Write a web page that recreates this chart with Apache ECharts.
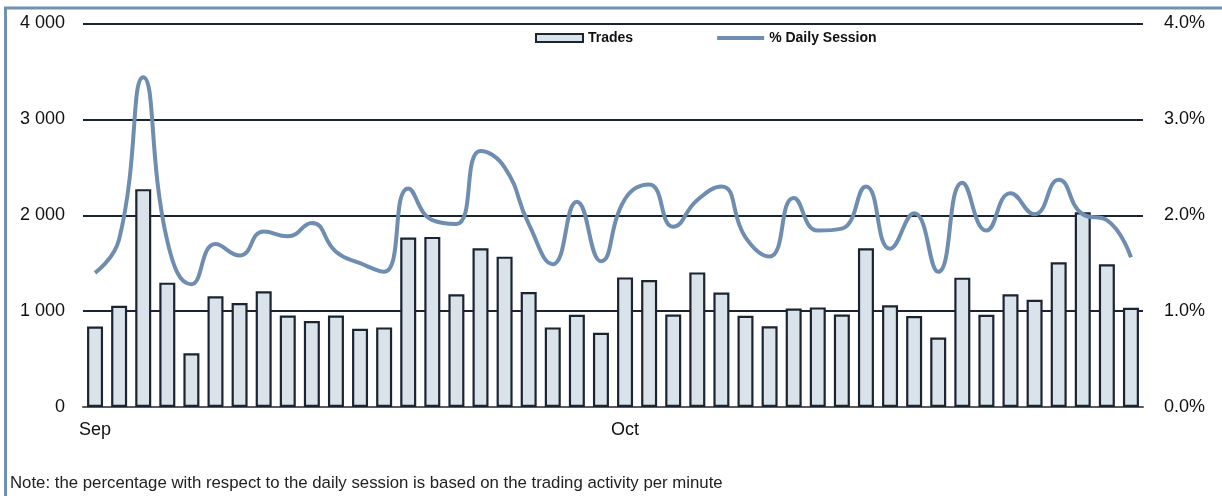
<!DOCTYPE html>
<html>
<head>
<meta charset="utf-8">
<script src="https://cdn.jsdelivr.net/npm/echarts@6/dist/echarts.min.js"></script>
<style>
  html, body { margin: 0; padding: 0; background: #fff; }
  #chart { width: 1222px; height: 496px; }
</style>
</head>
<body>
<div id="chart"></div>
<script>
// ---- data ----
const categories = Array.from({length: 44}, (_, i) => 'D' + (i + 1));
const monthTicks = { 0: 'Sep', 22: 'Oct' };
const trades = [840, 1056, 2272, 1297, 561, 1154, 1084, 1206, 955, 896, 955,
  816, 830, 1767, 1774, 1175, 1655, 1568, 1199, 830, 962, 774,
  1352, 1324, 965, 1404, 1195, 952, 843, 1028, 1039, 965, 1655,
  1060, 948, 725, 1349, 962, 1175, 1119, 1509, 2031, 1488, 1035];
const dailySession = [1.40, 1.75, 3.44, 1.73, 1.28, 1.70, 1.58, 1.83, 1.78, 1.92, 1.62,
  1.50, 1.41, 2.28, 1.95, 1.91, 2.67, 2.50, 1.91, 1.49, 2.14, 1.52,
  2.17, 2.32, 1.88, 2.16, 2.30, 1.77, 1.57, 2.18, 1.84, 1.86, 2.30,
  1.65, 2.02, 1.41, 2.34, 1.84, 2.23, 2.01, 2.37, 2.01, 1.95, 1.56];
const leftTicks = [0, 1000, 2000, 3000, 4000];
const noteText = 'Note: the percentage with respect to the daily session is based on the trading activity per minute';

const dark = '#1b2431';
const lineColor = '#6f8db0';
const font = '"Liberation Sans", Arial, sans-serif';

const chart = echarts.init(document.getElementById('chart'), null, { renderer: 'canvas' });
chart.setOption({
  animation: false,
  backgroundColor: '#fff',
  grid: { left: 83, right: 79, top: 23.5, bottom: 89, containLabel: false },
  legend: {
    left: 530, top: 26,
    itemWidth: 47, itemHeight: 8, itemGap: 82,
    textStyle: { fontFamily: font, fontSize: 14, fontWeight: 'bold', color: '#111' },
    data: [
      { name: 'Trades', icon: 'rect', itemStyle: { color: '#dae2ea', borderColor: dark, borderWidth: 2 } },
      { name: '% Daily Session', itemStyle: { opacity: 0 }, lineStyle: { color: lineColor, width: 4 } }
    ]
  },
  xAxis: {
    type: 'category',
    data: categories,
    boundaryGap: true,
    axisLine: { show: true, lineStyle: { color: '#555c66', width: 2 } },
    axisTick: { show: false },
    axisLabel: {
      interval: 0,
      margin: 14,
      fontFamily: font, fontSize: 18, color: '#111',
      formatter: (v, i) => monthTicks[i] || ''
    }
  },
  yAxis: [
    {
      type: 'value', min: 0, max: 4000, interval: 1000,
      axisLine: { show: false }, axisTick: { show: false },
      splitLine: { show: true, lineStyle: { color: dark, width: 2 } },
      axisLabel: {
        margin: 18, fontFamily: font, fontSize: 18, color: '#111',
        formatter: v => leftTicks.includes(v) ? String(v).replace(/\B(?=(\d{3})+(?!\d))/g, ' ') : ''
      }
    },
    {
      type: 'value', min: 0, max: 4, interval: 1,
      axisLine: { show: false }, axisTick: { show: false },
      splitLine: { show: false },
      axisLabel: {
        margin: 21, fontFamily: font, fontSize: 18, color: '#111',
        formatter: v => v.toFixed(1) + '%'
      }
    }
  ],
  series: [
    {
      name: 'Trades', type: 'bar', yAxisIndex: 0,
      data: trades, barWidth: 16,
      itemStyle: { color: '#dae2ea', borderColor: dark, borderWidth: 2.2 },
      z: 2
    },
    {
      name: '% Daily Session', type: 'line', yAxisIndex: 1,
      data: dailySession, smooth: 0.5, symbol: 'none', showSymbol: false,
      lineStyle: { color: lineColor, width: 4 },
      itemStyle: { color: lineColor },
      z: 3
    }
  ],
  graphic: [
    { type: 'line', shape: { x1: 4, y1: 8, x2: 1222, y2: 8 }, style: { stroke: '#7091b3', lineWidth: 3 } },
    { type: 'line', shape: { x1: 5.5, y1: 7, x2: 5.5, y2: 496 }, style: { stroke: '#7091b3', lineWidth: 3 } },
    { type: 'text', left: 10, top: 475, style: { text: noteText, font: '16.8px ' + font, fill: '#222' } }
  ]
});
</script>
</body>
</html>
